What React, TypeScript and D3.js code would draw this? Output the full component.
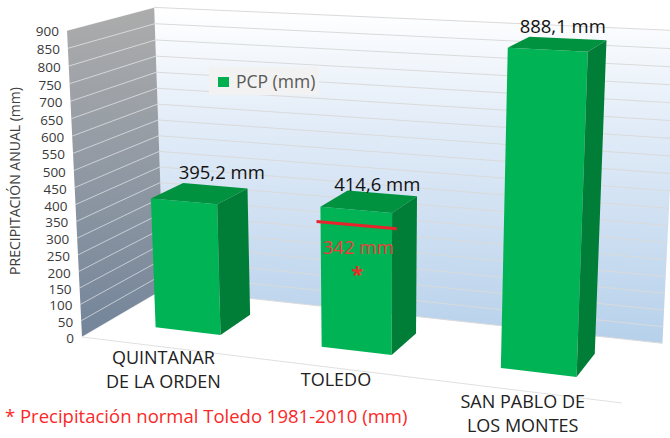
import React from 'react';
import * as d3 from 'd3';

// ---------- data ----------
const CATEGORIES = ['QUINTANAR DE LA ORDEN', 'TOLEDO', 'SAN PABLO DE LOS MONTES'];
const CATEGORY_LINES = [['QUINTANAR', 'DE LA ORDEN'], ['TOLEDO'], ['SAN PABLO DE', 'LOS MONTES']];
const PCP = [395.2, 414.6, 888.1];
const PCP_LABELS = ['395,2 mm', '414,6 mm', '888,1 mm'];
const Y_TICKS = [0, 50, 100, 150, 200, 250, 300, 350, 400, 450, 500, 550, 600, 650, 700, 750, 800, 850, 900];
const Y_MAX = 900;
const SERIES_NAME = 'PCP (mm)';
const Y_TITLE = 'PRECIPITACIÓN ANUAL (mm)';
const NORMAL_CATEGORY = 'TOLEDO';
const NORMAL_VALUE = 342;
const NORMAL_LABEL = '342 mm';
const NOTE = '* Precipitación normal Toledo 1981-2010 (mm)';

// ---------- camera (perspective: vanishing points + origin) ----------
const VP_X = [-4198, -186];
const VP_Y = [373, 6284];
const VP_Z = [1051, -230];
const ORIGIN = [82, 337];
const K = [-0.11203, -0.04902, 0.09245];

function project(u: number, v: number, w: number): [number, number] {
  const a = K[0] * u;
  const c = K[1] * v;
  const b = K[2] * w;
  const den = 1 + a + b + c;
  return [
    (a * VP_X[0] + c * VP_Y[0] + b * VP_Z[0] + ORIGIN[0]) / den,
    (a * VP_X[1] + c * VP_Y[1] + b * VP_Z[1] + ORIGIN[1]) / den,
  ];
}

const FONT = '"Open Sans", "Noto Sans", sans-serif';
const LABEL_NUDGE: [number, number][] = [[22, -14], [8, -10], [5, -11]];

export default function App() {
  const x = d3.scaleBand<string>().domain(CATEGORIES).range([0, 1]).paddingInner(0.6).paddingOuter(0.3);
  const y = d3.scaleLinear().domain([0, Y_MAX]).range([0, 1]);
  const z = d3.scaleLinear().domain([0, 1]).range([0.3, 0.7]); // bar depth
  const bw = x.bandwidth();
  const poly = (pts: [number, number][]) => (d3.line()(pts) as string) + 'Z';

  const leftWall = poly([project(0, 0, 0), project(0, 0, 1), project(0, 1, 1), project(0, 1, 0)]);
  const backWall = poly([project(0, 0, 1), project(1, 0, 1), project(1, 1, 1), project(0, 1, 1)]);
  const floorFront = [project(0, 0, 0), project(1, 0, 0)];

  const bars = CATEGORIES.map((c, i) => {
    const u0 = x(c)!;
    const u1 = u0 + bw;
    const v = y(PCP[i]);
    const w0 = z(0);
    const w1 = z(1);
    return {
      front: poly([project(u0, 0, w0), project(u1, 0, w0), project(u1, v, w0), project(u0, v, w0)]),
      top: poly([project(u0, v, w0), project(u1, v, w0), project(u1, v, w1), project(u0, v, w1)]),
      side: poly([project(u1, 0, w0), project(u1, 0, w1), project(u1, v, w1), project(u1, v, w0)]),
      label: project(u0 + bw / 2, v, 0.5),
      cat: project(u0 + bw / 2, 0, 0),
    };
  });

  const nu0 = x(NORMAL_CATEGORY)! - 0.26 * bw;
  const nu1 = x(NORMAL_CATEGORY)! + 0.89 * bw;
  const n0 = project(nu0, y(NORMAL_VALUE), 0.5);
  const n1 = project(nu1, y(NORMAL_VALUE), 0.5);
  const nm = [(n0[0] + n1[0]) / 2, (n0[1] + n1[1]) / 2];

  return (
    <svg width={670} height={438} style={{ position: 'absolute', left: 0, top: 0, background: '#fff' }} fontFamily={FONT}>
      <defs>
        <linearGradient id="bw" gradientUnits="userSpaceOnUse" x1={0} y1={10} x2={0} y2={340}>
          <stop offset="0" stopColor="#ffffff" />
          <stop offset="0.35" stopColor="#e2ecf8" />
          <stop offset="1" stopColor="#b7d1eb" />
        </linearGradient>
        <linearGradient id="lw" gradientUnits="userSpaceOnUse" x1={0} y1={10} x2={0} y2={335}>
          <stop offset="0" stopColor="#acacac" />
          <stop offset="1" stopColor="#74859a" />
        </linearGradient>
      </defs>
      <path d={backWall} fill="url(#bw)" />
      <path d={leftWall} fill="url(#lw)" />
      {Y_TICKS.map((t) => {
        const a = project(0, y(t), 0);
        const b = project(0, y(t), 1);
        const c = project(1, y(t), 1);
        return (
          <g key={t}>
            <line x1={a[0]} y1={a[1]} x2={b[0]} y2={b[1]} stroke="#ffffff" strokeOpacity={0.55} strokeWidth={1} />
            <line x1={b[0]} y1={b[1]} x2={c[0]} y2={c[1]} stroke="#dadada" strokeWidth={1} />
          </g>
        );
      })}
      <line x1={floorFront[0][0]} y1={floorFront[0][1]} x2={floorFront[1][0]} y2={floorFront[1][1]} stroke="#e0e0e0" strokeWidth={1} />
      {Y_TICKS.map((t) => {
        const a = project(0, y(t), 0);
        return (
          <text key={t} x={a[0] - 8} y={a[1] + 6} textAnchor="end" fontSize={13.5} fill="#3a3a3a">
            {t}
          </text>
        );
      })}
      <text transform="translate(14,181) rotate(-90)" textAnchor="middle" dominantBaseline="central" fontSize={14} fill="#404040">
        {Y_TITLE}
      </text>
      <g>
        <rect x={209} y={67} width={110} height={28} fill="#f2f2f2" />
        <rect x={218} y={77} width={11} height={10} fill="#00b050" />
        <text x={236} y={88} fontSize={17.5} fill="#595959">{SERIES_NAME}</text>
      </g>
      {bars.map((b, i) => (
        <g key={i}>
          <path d={b.front} fill="#00b455" />
          <path d={b.top} fill="#00923f" />
          <path d={b.side} fill="#007e38" />
        </g>
      ))}
      {bars.map((b, i) => (
        <text key={i} x={b.label[0] + LABEL_NUDGE[i][0]} y={b.label[1] + LABEL_NUDGE[i][1]} textAnchor="middle" fontSize={18.5} fill="#111111">
          {PCP_LABELS[i]}
        </text>
      ))}
      {bars.map((b, i) => (
        <text key={i} textAnchor="middle" fontSize={18} fill="#222222">
          {CATEGORY_LINES[i].map((l, j) => (
            <tspan key={j} x={b.cat[0]} y={b.cat[1] + 17.5 + j * 24}>{l}</tspan>
          ))}
        </text>
      ))}
      <line x1={n0[0]} y1={n0[1]} x2={n1[0]} y2={n1[1]} stroke="#e8232b" strokeWidth={3} />
      <text x={nm[0] + 1.5} y={nm[1] + 29} textAnchor="middle" fontSize={18.5} fill="#f03a3a">{NORMAL_LABEL}</text>
      <text x={nm[0] + 0.5} y={nm[1] + 57} textAnchor="middle" fontSize={22} fontWeight={700} fill="#ec2a2a">*</text>
      <text x={5} y={423} fontSize={18.5} fill="#fa2828">{NOTE}</text>
    </svg>
  );
}
